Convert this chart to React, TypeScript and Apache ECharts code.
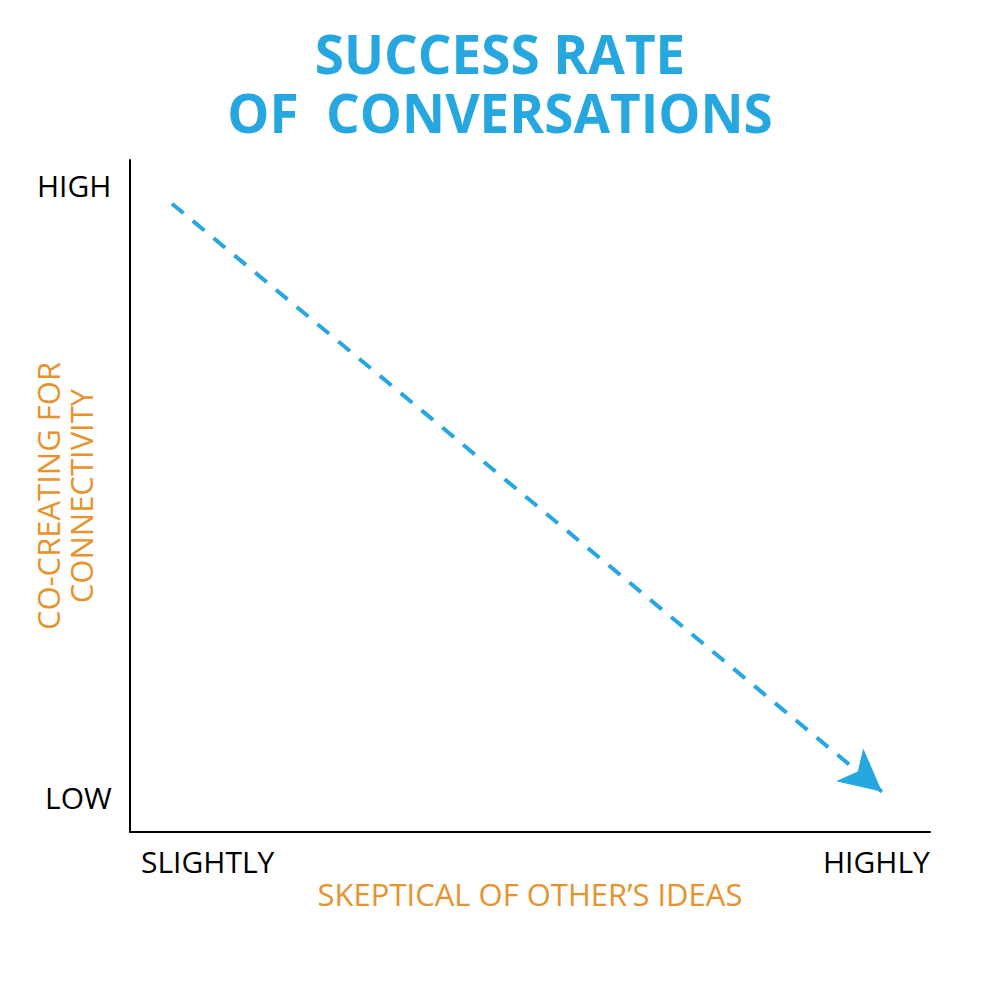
import React, { useEffect, useRef } from "react";
import * as echarts from "echarts";

const titleLines = ["SUCCESS RATE", "OF  CONVERSATIONS"];
const xAxisName = "SKEPTICAL OF OTHER\u2019S IDEAS";
const yAxisName = "CO-CREATING FOR\nCONNECTIVITY";
const xTickLabels = ["SLIGHTLY", "HIGHLY"];
const yTickLabels = ["HIGH", "LOW"];
const trendX = [5.25, 94.0];
const trendY = [93.5, 6.0];

const BLUE = "#27a7df";
const ORANGE = "#e8922b";
const FONT = "'Open Sans', 'Noto Sans', sans-serif";

export default function App() {
  const ref = useRef<HTMLDivElement>(null);
  useEffect(() => {
    if (!ref.current) return;
    const chart = echarts.init(ref.current, null, { renderer: "svg" });
    const gridLeft = 130, gridRight = 70, gridTop = 160, gridBottom = 157;
    const titleStyle = {
      color: BLUE,
      fontFamily: FONT,
      fontWeight: 700,
      fontSize: 53,
      lineHeight: 48,
    };
    const tickFont = `30px ${FONT}`;
    chart.setOption({
      animation: false,
      backgroundColor: "#ffffff",
      title: [
        { text: titleLines[0], left: "center", top: 29, padding: 0, textStyle: titleStyle },
        { text: titleLines[1], left: "center", top: 88, padding: 0, textStyle: titleStyle },
      ],
      grid: { left: gridLeft, right: gridRight, top: gridTop, bottom: gridBottom },
      xAxis: {
        type: "value",
        min: 0,
        max: 100,
        axisLine: { show: true, lineStyle: { color: "#000", width: 2 } },
        axisTick: { show: false },
        axisLabel: { show: false },
        splitLine: { show: false },
        name: xAxisName,
        nameLocation: "middle",
        nameGap: 46,
        nameTextStyle: { color: ORANGE, fontFamily: FONT, fontSize: 31 },
      },
      yAxis: {
        type: "value",
        min: 0,
        max: 100,
        axisLine: { show: true, lineStyle: { color: "#000", width: 2 } },
        axisTick: { show: false },
        axisLabel: { show: false },
        splitLine: { show: false },
        name: yAxisName,
        nameLocation: "middle",
        nameRotate: 90,
        nameGap: 33,
        nameTextStyle: { color: ORANGE, fontFamily: FONT, fontSize: 31, lineHeight: 33 },
      },
      graphic: [
        { type: "text", left: 37, top: 170, style: { text: yTickLabels[0], fill: "#000", font: tickFont } },
        { type: "text", left: 45, top: 782, style: { text: yTickLabels[1], fill: "#000", font: tickFont } },
        { type: "text", left: 141, top: 846, style: { text: xTickLabels[0], fill: "#000", font: tickFont } },
        { type: "text", left: 823, top: 846, style: { text: xTickLabels[1], fill: "#000", font: tickFont } },
      ],
      series: [
        {
          type: "line",
          data: [],
          silent: true,
          markLine: {
            silent: true,
            symbol: ["none", "arrow"],
            symbolSize: [32, 42],
            label: { show: false },
            lineStyle: { color: BLUE, width: 4, type: [15, 12] },
            itemStyle: { color: BLUE },
            data: [[{ coord: [trendX[0], trendY[0]] }, { coord: [trendX[1], trendY[1]] }]],
          },
        },
      ],
    });
    return () => chart.dispose();
  }, []);
  return <div ref={ref} style={{ width: 1000, height: 989, margin: -8 }} />;
}
